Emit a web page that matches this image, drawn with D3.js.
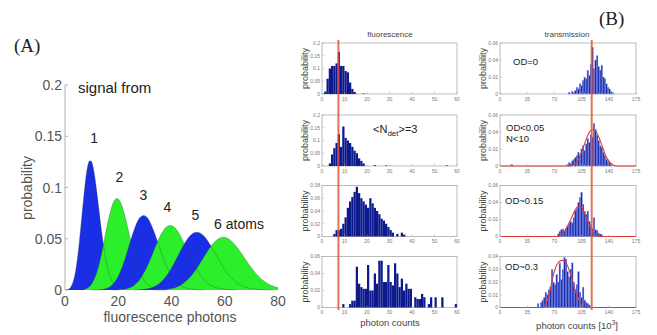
<!DOCTYPE html>
<html>
<head>
<meta charset="utf-8">
<script src="https://cdn.jsdelivr.net/npm/d3@7"></script>
<style>
  body { margin: 0; background: #fff; }
  text { font-family: "Liberation Sans", Arial, sans-serif; }
</style>
</head>
<body>
<script>
// (A) photon number distributions, one per atom number
var atoms1 = [[0,0],[1,0.0005],[2,0.0023],[3,0.0076],[4,0.0189],[5,0.0378],[6,0.0631],[7,0.0901],[8,0.1126],[9,0.1251],[9.5,0.1262],[10,0.1251],[11,0.1137],[12,0.0948],[13,0.0729],[14,0.0521],[15,0.0347],[16,0.0217],[18,0.0071],[20,0.0019],[22,0.0004],[24,0]];
var atoms2 = [[6,0],[8,0.0013],[10,0.0058],[12,0.0176],[14,0.0387],[16,0.0646],[18,0.0844],[19.5,0.0892],[21,0.0846],[22,0.0769],[24,0.0557],[26,0.0343],[28,0.0181],[30,0.0083],[32,0.0033],[34,0.0012],[36,0.0004],[38,0]];
var atoms3 = [[10,0],[12,0.0001],[14,0.0005],[16,0.0019],[18,0.0057],[20,0.0134],[22,0.0261],[24,0.0426],[26,0.059],[28,0.0702],[29.5,0.0728],[31,0.0703],[32,0.0659],[34,0.0529],[36,0.0378],[38,0.0242],[40,0.0139],[42,0.0073],[44,0.0035],[46,0.0015],[48,0.0006],[50,0.0002],[52,0]];
var atoms4 = [[18,0],[20,0.0002],[22,0.0007],[24,0.002],[26,0.0047],[28,0.01],[30,0.0185],[32,0.0298],[34,0.0424],[36,0.0539],[38,0.0613],[39.5,0.063],[41,0.0614],[42,0.0585],[44,0.0495],[46,0.0382],[48,0.0271],[50,0.0177],[52,0.0107],[54,0.006],[56,0.0031],[58,0.0015],[60,0.0007],[62,0.0003],[64,0]];
var atoms5 = [[26,0],[28,0.0002],[30,0.0007],[32,0.0017],[34,0.0038],[36,0.0075],[38,0.0134],[40,0.0215],[42,0.0312],[44,0.0412],[46,0.0498],[48,0.0552],[49.5,0.0564],[51,0.0552],[52,0.0531],[54,0.0464],[56,0.0377],[58,0.0285],[60,0.0201],[62,0.0133],[64,0.0082],[66,0.0048],[68,0.0026],[70,0.0014],[72,0.0007],[74,0.0003],[76,0.0001],[78,0]];
var atoms6 = [[34,0],[36,0.0002],[38,0.0006],[40,0.0014],[42,0.003],[44,0.0057],[46,0.0099],[48,0.0158],[50,0.0232],[52,0.0315],[54,0.0397],[56,0.0464],[58,0.0505],[59.5,0.0515],[61,0.0506],[62,0.0489],[64,0.0437],[66,0.0367],[68,0.029],[70,0.0216],[72,0.0152],[74,0.0101],[76,0.0064],[78,0.0038],[80,0.0022]];
var atomLabels = ["1","2","3","4","5","6 atoms"];
var atomLabelPos = [[9.5,0.143],[19,0.105],[28,0.088],[37,0.076],[47.5,0.068],[56,0.06]];
var photonTicks = [0,20,40,60,80];
var probTicks = [0,0.05,0.1,0.15,0.2];

// (B) fluorescence histograms: [bin start, probability], bin width 1
var fluo1 = [[1,0.01],[2,0.06],[3,0.1],[4,0.11],[5,0.11],[6,0.12],[7,0.165],[8,0.11],[9,0.11],[10,0.09],[11,0.085],[12,0.045],[13,0.02],[14,0.008],[18,0.002]];
var fluo2 = [[3,0.01],[4,0.045],[5,0.07],[6,0.09],[7,0.125],[8,0.075],[9,0.155],[10,0.11],[11,0.1],[12,0.09],[13,0.075],[14,0.06],[15,0.05],[16,0.03],[17,0.02],[18,0.01],[23,0.003],[28,0.002],[55,0.002]];
var fluo3 = [[5,0.004],[6,0.01],[7,0.01],[8,0.012],[9,0.02],[10,0.03],[11,0.045],[12,0.055],[13,0.062],[14,0.07],[15,0.078],[16,0.068],[17,0.06],[18,0.055],[19,0.05],[20,0.045],[21,0.06],[22,0.052],[23,0.045],[24,0.04],[25,0.035],[26,0.028],[27,0.025],[28,0.02],[29,0.015],[30,0.01],[31,0.006],[33,0.004],[35,0.006],[36,0.003]];
var fluo4 = [[9,0.004],[12,0.004],[13,0.008],[14,0.008],[15,0.048],[16,0.028],[17,0.024],[18,0.022],[19,0.022],[20,0.05],[21,0.02],[22,0.02],[23,0.04],[24,0.028],[25,0.055],[26,0.055],[27,0.03],[28,0.03],[29,0.05],[30,0.03],[31,0.026],[32,0.052],[33,0.04],[34,0.024],[35,0.034],[36,0.02],[37,0.028],[38,0.022],[39,0.022],[41,0.012],[42,0.01],[43,0.01],[44,0.016],[45,0.012],[47,0.004],[48,0.012],[50,0.012],[53,0.012],[59,0.004]];

// (B) transmission histograms: [bin start in 10^3 counts, probability], bin width 2
var trans1 = [[88,0.002],[92,0.003],[94,0.002],[96,0.004],[98,0.008],[100,0.006],[102,0.012],[104,0.01],[106,0.016],[108,0.02],[110,0.018],[112,0.028],[114,0.022],[116,0.035],[118,0.055],[120,0.03],[122,0.04],[124,0.045],[126,0.032],[128,0.028],[130,0.034],[132,0.02],[134,0.018],[136,0.012],[138,0.008],[140,0.006],[142,0.003],[144,0.002]];
var trans2 = [[14,0.002],[86,0.002],[88,0.004],[90,0.003],[92,0.006],[94,0.008],[96,0.01],[98,0.012],[100,0.016],[102,0.012],[104,0.02],[106,0.024],[108,0.018],[110,0.026],[112,0.032],[114,0.028],[116,0.037],[118,0.034],[120,0.05],[122,0.043],[124,0.036],[126,0.03],[128,0.024],[130,0.022],[132,0.016],[134,0.012],[136,0.008],[138,0.006],[140,0.004],[142,0.002]];
var trans3 = [[74,0.003],[76,0.006],[78,0.008],[80,0.009],[82,0.007],[84,0.009],[86,0.012],[88,0.015],[90,0.018],[92,0.016],[94,0.022],[96,0.03],[98,0.033],[100,0.04],[102,0.046],[104,0.052],[106,0.038],[108,0.03],[110,0.026],[112,0.03],[114,0.018],[116,0.014],[118,0.009],[120,0.022],[122,0.008],[124,0.007],[126,0.004],[128,0.003],[130,0.002]];
var trans4 = [[48,0.003],[52,0.004],[54,0.006],[56,0.008],[58,0.012],[60,0.01],[62,0.014],[64,0.016],[66,0.03],[68,0.02],[70,0.018],[72,0.026],[74,0.02],[76,0.035],[78,0.022],[80,0.03],[82,0.039],[84,0.038],[86,0.028],[88,0.024],[90,0.03],[92,0.035],[94,0.02],[96,0.014],[98,0.018],[100,0.028],[102,0.012],[104,0.008],[106,0.016],[108,0.006],[110,0.004],[112,0.003],[114,0.002]];

// red fits on the transmission histograms
var fit2 = [[0,0],[90,0],[96,0.002],[100,0.006],[104,0.014],[108,0.024],[112,0.034],[116,0.041],[120,0.043],[124,0.04],[128,0.032],[132,0.022],[136,0.012],[140,0.006],[144,0.002],[150,0],[175,0]];
var fit3 = [[0,0],[75,0],[80,0.003],[85,0.009],[90,0.018],[95,0.028],[100,0.035],[104,0.035],[108,0.029],[112,0.02],[116,0.011],[120,0.005],[125,0.001],[130,0],[175,0]];
var fit4 = [[0,0],[55,0],[60,0.004],[64,0.012],[68,0.024],[72,0.032],[76,0.036],[80,0.037],[84,0.036],[88,0.031],[92,0.024],[96,0.015],[100,0.008],[104,0.003],[110,0],[175,0]];

var fluoXTicks = [0,10,20,30,40,50,60];
var transXTicks = [0,35,70,105,140,175];
var fluoYTicks = [[0,0.05,0.1,0.15,0.2],[0,0.05,0.1,0.15,0.2],[0,0.02,0.04,0.06,0.08],[0,0.02,0.04,0.06]];
var transYTicks = [[0,0.02,0.04,0.06],[0,0.02,0.04,0.06],[0,0.02,0.04,0.06],[0,0.01,0.02,0.03,0.04]];
var fluoThreshold = 7.3;
var transThreshold = 118;

var svg = d3.select("body").append("svg")
  .attr("width", 657).attr("height", 335);

// ---------- panel A ----------
var blue = "#1a2ee6", green = "#2bef2b";
var xA = d3.scaleLinear().domain([0, 80]).range([65, 278]);
var yA = d3.scaleLinear().domain([0, 0.2]).range([290, 85]);
var gA = svg.append("g");

var area = d3.area()
  .x(function(d) { return xA(d[0]); })
  .y0(yA(0))
  .y1(function(d) { return yA(d[1]); })
  .curve(d3.curveMonotoneX);
var line = d3.line()
  .x(function(d) { return xA(d[0]); })
  .y(function(d) { return yA(d[1]); })
  .curve(d3.curveMonotoneX);

var curves = [atoms1, atoms2, atoms3, atoms4, atoms5, atoms6];
curves.forEach(function(c, i) {
  gA.append("path").attr("d", area(c))
    .attr("fill", i % 2 === 0 ? blue : green);
});
curves.forEach(function(c) {
  gA.append("path").attr("d", line(c))
    .attr("fill", "none").attr("stroke", "#2a4a3a")
    .attr("stroke-opacity", 0.45).attr("stroke-width", 0.7);
});

gA.append("line").attr("x1", 65).attr("x2", 65).attr("y1", 85).attr("y2", 290)
  .attr("stroke", "#b0b0b0").attr("stroke-width", 1);
gA.selectAll(".ytk").data(probTicks).enter().append("line")
  .attr("x1", 65).attr("x2", 68)
  .attr("y1", function(d) { return yA(d); }).attr("y2", function(d) { return yA(d); })
  .attr("stroke", "#b0b0b0");
gA.selectAll(".ytl").data(probTicks).enter().append("text")
  .attr("x", 62).attr("y", function(d) { return yA(d) + 5; })
  .attr("text-anchor", "end").attr("font-size", 14).attr("fill", "#555")
  .text(d3.format("~g"));
gA.selectAll(".xtl").data(photonTicks).enter().append("text")
  .attr("x", function(d) { return xA(d); }).attr("y", 306)
  .attr("text-anchor", "middle").attr("font-size", 14).attr("fill", "#555")
  .text(function(d) { return d; });
gA.append("text").attr("x", 170).attr("y", 322).attr("text-anchor", "middle")
  .attr("font-size", 14).attr("fill", "#555").text("fluorescence photons");
gA.append("text").attr("transform", "translate(32,188) rotate(-90)")
  .attr("text-anchor", "middle").attr("font-size", 14).attr("fill", "#555").text("probability");
gA.append("text").attr("x", 78).attr("y", 93).attr("font-size", 15)
  .attr("fill", "#222").text("signal from");
gA.selectAll(".al").data(atomLabels).enter().append("text")
  .attr("x", function(d, i) { return xA(atomLabelPos[i][0]); })
  .attr("y", function(d, i) { return yA(atomLabelPos[i][1]); })
  .attr("font-size", 14).attr("fill", "#222")
  .text(function(d) { return d; });
svg.append("text").attr("x", 14).attr("y", 52).attr("font-size", 19)
  .style("font-family", "'Liberation Serif', 'Times New Roman', serif").attr("fill", "#222").text("(A)");
svg.append("text").attr("x", 599).attr("y", 25).attr("font-size", 19)
  .style("font-family", "'Liberation Serif', 'Times New Roman', serif").attr("fill", "#222").text("(B)");

// ---------- panel B ----------
var rowTops = [43, 115, 185.5, 256.5];
var panelH = 51;

function drawPanel(opt) {
  var g = svg.append("g");
  var x = d3.scaleLinear().domain(opt.xDomain).range(opt.xRange);
  var yTicks = opt.yTicks;
  var y = d3.scaleLinear().domain([0, yTicks[yTicks.length - 1]]).range([opt.top + panelH, opt.top]);
  g.append("rect").attr("x", opt.xRange[0]).attr("y", opt.top)
    .attr("width", opt.xRange[1] - opt.xRange[0]).attr("height", panelH)
    .attr("fill", "#fff").attr("stroke", "#a0a0a0").attr("stroke-width", 0.7);
  g.selectAll(".bar").data(opt.bars).enter().append("rect")
    .attr("x", function(d) { return x(d[0]); })
    .attr("width", function(d) { return x(d[0] + opt.binW) - x(d[0]); })
    .attr("y", function(d) { return y(d[1]); })
    .attr("height", function(d) { return y(0) - y(d[1]); })
    .attr("fill", opt.barColor)
    .attr("stroke", opt.barEdge || "none").attr("stroke-width", 0.35);
  if (opt.fit) {
    g.append("path")
      .attr("d", d3.line().x(function(d) { return x(d[0]); }).y(function(d) { return y(d[1]); })
        .curve(d3.curveMonotoneX)(opt.fit))
      .attr("fill", "none").attr("stroke", "#e03a30").attr("stroke-width", 1.1);
  }
  // ticks inside the box, matlab style
  opt.xTicks.forEach(function(t) {
    g.append("line").attr("x1", x(t)).attr("x2", x(t))
      .attr("y1", opt.top + panelH).attr("y2", opt.top + panelH - 2)
      .attr("stroke", "#a0a0a0").attr("stroke-width", 0.5);
    g.append("text").attr("x", x(t)).attr("y", opt.top + panelH + 6.5)
      .attr("text-anchor", "middle").attr("font-size", 5).attr("fill", "#777").text(t);
  });
  yTicks.forEach(function(t) {
    g.append("line").attr("x1", opt.xRange[0]).attr("x2", opt.xRange[0] + 2)
      .attr("y1", y(t)).attr("y2", y(t))
      .attr("stroke", "#a0a0a0").attr("stroke-width", 0.5);
    g.append("text").attr("x", opt.xRange[0] - 2).attr("y", y(t) + 1.8)
      .attr("text-anchor", "end").attr("font-size", 5).attr("fill", "#777")
      .text(d3.format("~g")(t));
  });
  g.append("text")
    .attr("transform", "translate(" + (opt.xRange[0] - 14) + "," + (opt.top + panelH / 2) + ") rotate(-90)")
    .attr("text-anchor", "middle").attr("font-size", 9).attr("fill", "#444").text("probability");
  return g;
}

var fluoData = [fluo1, fluo2, fluo3, fluo4];
var transData = [trans1, trans2, trans3, trans4];
var transFits = [null, fit2, fit3, fit4];
var fluoRange = [322, 457], transRange = [500, 636];

fluoData.forEach(function(d, i) {
  drawPanel({ xDomain: [0, 60], xRange: fluoRange, top: rowTops[i], yTicks: fluoYTicks[i],
    xTicks: fluoXTicks, bars: d, binW: 1, barColor: "#0c1a8e" });
});
transData.forEach(function(d, i) {
  drawPanel({ xDomain: [0, 175], xRange: transRange, top: rowTops[i], yTicks: transYTicks[i],
    xTicks: transXTicks, bars: d, binW: 2, barColor: "#1a2cb0", barEdge: "#8d9cf0", fit: transFits[i] });
});

// threshold lines
var xF = d3.scaleLinear().domain([0, 60]).range(fluoRange);
var xT = d3.scaleLinear().domain([0, 175]).range(transRange);
[[xF(fluoThreshold)], [xT(transThreshold)]].forEach(function(p) {
  svg.append("line").attr("x1", p[0]).attr("x2", p[0]).attr("y1", 40).attr("y2", 310)
    .attr("stroke", "#e4573d").attr("stroke-opacity", 0.85).attr("stroke-width", 2);
});

// titles and annotations
svg.append("text").attr("x", 390).attr("y", 37).attr("text-anchor", "middle")
  .attr("font-size", 8).attr("fill", "#444").text("fluorescence");
svg.append("text").attr("x", 567).attr("y", 37).attr("text-anchor", "middle")
  .attr("font-size", 8).attr("fill", "#444").text("transmission");
svg.append("text").attr("x", 390).attr("y", 326).attr("text-anchor", "middle")
  .attr("font-size", 9.5).attr("fill", "#444").text("photon counts");
var pc = svg.append("text").attr("x", 577).attr("y", 329).attr("text-anchor", "middle")
  .attr("font-size", 9.5).attr("fill", "#444");
pc.append("tspan").text("photon counts [10");
pc.append("tspan").attr("font-size", 6.5).attr("dy", -4).text("3");
pc.append("tspan").attr("dy", 4).text("]");

var nd = svg.append("text").attr("x", 373).attr("y", 133).attr("font-size", 11).attr("fill", "#222");
nd.append("tspan").text("<N");
nd.append("tspan").attr("font-size", 8).attr("dy", 3).text("det");
nd.append("tspan").attr("dy", -3).text(">=3");

var odLabels = [["OD=0", 513, 65], ["OD<0.05", 506, 131], ["N<10", 506, 142], ["OD~0.15", 505, 204], ["OD~0.3", 505, 270]];
svg.selectAll(".od").data(odLabels).enter().append("text")
  .attr("x", function(d) { return d[1]; }).attr("y", function(d) { return d[2]; })
  .attr("font-size", 9.5).attr("fill", "#222").text(function(d) { return d[0]; });
</script>
</body>
</html>
